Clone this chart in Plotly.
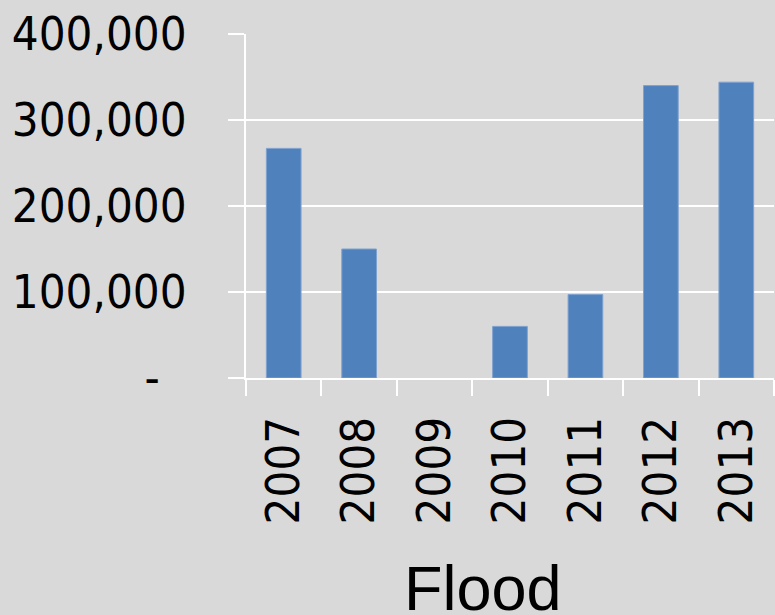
import plotly.graph_objects as go

years = ["2007", "2008", "2009", "2010", "2011", "2012", "2013"]
flood = [267000, 150000, 0, 60000, 97000, 340000, 344000]
y_tickvals = [0, 100000, 200000, 300000, 400000]
y_ticktext = ["-\u00a0\u00a0", "100,000", "200,000", "300,000", "400,000"]
x_title = "Flood"

BG = "#d9d9d9"
TICKFONT = dict(family="DejaVu Sans Condensed, DejaVu Sans, sans-serif", size=47, color="black")

fig = go.Figure(go.Bar(
    x=years, y=flood,
    marker=dict(color="#4f81bd",
                line=dict(color="#7fa2cf", width=[0 if v == 0 else 1 for v in flood])),
))

fig.update_layout(
    width=775, height=615,
    margin=dict(l=246, r=1, t=34, b=237),
    paper_bgcolor=BG, plot_bgcolor=BG,
    bargap=0.54,
    showlegend=False,
)

fig.update_yaxes(
    range=[0, 400000],
    tickvals=y_tickvals, ticktext=y_ticktext,
    tickfont=TICKFONT,
    showgrid=True, gridcolor="white", gridwidth=2,
    showline=True, linecolor="white", linewidth=2,
    ticks="outside", ticklen=16, tickcolor="white", tickwidth=2,
    ticklabelstandoff=32,
    zeroline=False,
    automargin=False,
)

fig.update_xaxes(
    type="category",
    tickfont=TICKFONT,
    tickangle=-90,
    tickson="boundaries",
    ticks="outside", ticklen=16, tickcolor="white", tickwidth=2,
    showline=True, linecolor="white", linewidth=2,
    showgrid=False,
    ticklabelstandoff=18,
    automargin=False,
)

fig.add_annotation(
    text=x_title, xref="paper", yref="paper",
    x=0.449, y=-0.61, xanchor="center", yanchor="middle",
    showarrow=False,
    font=dict(family="Liberation Sans, Arial, sans-serif", size=63, color="black"),
)

fig.write_html("out.html")
